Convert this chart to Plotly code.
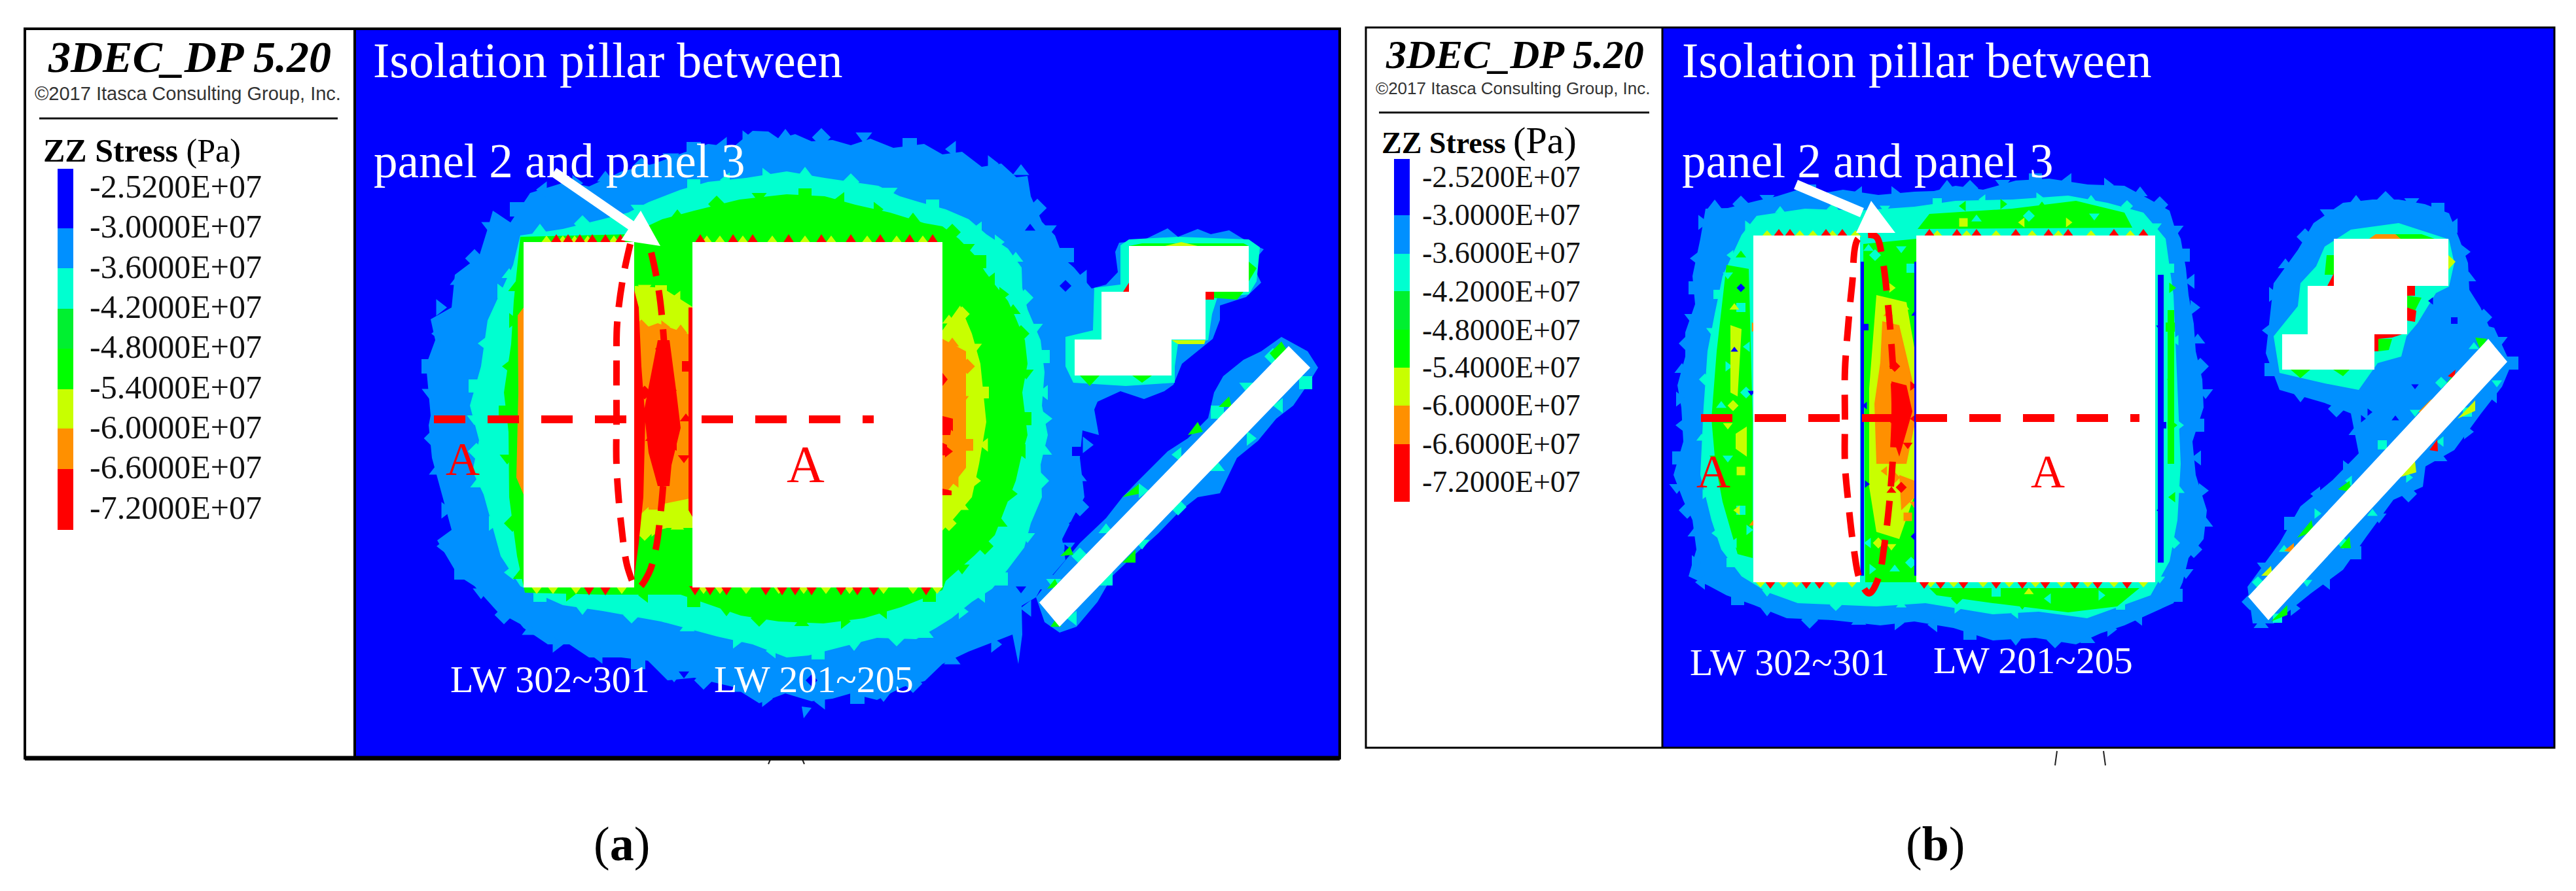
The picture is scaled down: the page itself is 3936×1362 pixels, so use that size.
"""
plot.py
Two 3DEC ZZ stress contour panels, redrawn with plotly.
Band outlines are read off the picture, in image pixels.
"""
import plotly.graph_objects as go

# -------------------------
# colours / legend
# -------------------------
BLUE, AZURE, CYAN, GREEN2 = "#0000ff", "#0090ff", "#00ffd0", "#00f030"
GREEN, YELLOW, ORANGE, RED = "#00ff00", "#c8ff00", "#ff9000", "#ff0000"
LEVEL_COLORS = [BLUE, AZURE, CYAN, GREEN2, GREEN, YELLOW, ORANGE, RED]
LEVEL_LABELS = ["-2.5200E+07", "-3.0000E+07", "-3.6000E+07", "-4.2000E+07", "-4.8000E+07",
                "-5.4000E+07", "-6.0000E+07", "-6.6000E+07", "-7.2000E+07"]

A_BAR_EDGES = [258, 349, 410, 472, 533, 595, 655, 717, 810]
A_LABEL_Y = [289, 350, 412, 473, 534, 596, 657, 718, 780]
B_BAR_EDGES = [243, 329, 388, 445, 504, 562, 620, 679, 767]
B_LABEL_Y = [274, 332, 390, 449, 508, 565, 623, 682, 740]

# -------------------------
# panel (a) contour bands
# -------------------------
A_AZURE = [[(1174,201),(1190,212),(1215,205),(1240,216),(1272,214),(1300,222),(1330,212),(1365,226),(1412,220),
            (1440,236),(1470,232),(1500,255),(1530,250),(1553,271),(1570,269),(1575,300),(1592,339),(1612,360),
            (1625,395),(1641,409),(1668,441),(1690,435),(1708,416),(1704,385),(1710,371),(1745,368),(1784,349),
            (1800,362),(1830,350),(1850,358),(1878,352),(1909,371),(1931,381),(1915,400),(1922,422),(1927,432),
            (1904,454),(1864,467),(1864,489),(1853,518),(1806,556),(1793,588),(1779,598),(1748,610),(1712,598),
            (1677,614),(1672,626),(1679,665),(1654,658),(1650,700),(1657,760),(1640,790),(1623,824),(1628,856),
            (1590,900),(1583,913),(1561,926),(1562,970),(1556,1015),(1547,970),(1480,996),(1440,1015),(1413,1041),
            (1380,1050),(1340,1070),(1300,1060),(1272,1068),(1240,1072),(1200,1060),(1160,1075),(1120,1050),
            (1061,1036),(1020,1040),(990,1010),(949,1005),(900,1005),(870,985),(837,985),(800,960),(795,954),
            (760,935),(725,896),(700,880),(668,826),(690,810),(675,756),(660,700),(655,650),(658,635),(651,558),
            (665,520),(658,488),(690,470),(695,420),(732,392),(745,350),(753,322),(780,340),(810,295),(865,278),
            (900,285),(950,262),(1000,250),(1040,235),(1082,220),(1120,225),(1150,200)],
           [(1958,515),(1998,537),(2014,562),(1998,588),(1976,620),(1950,640),(1922,674),(1890,700),(1864,754),
            (1830,760),(1802,782),(1770,815),(1739,843),(1700,880),(1677,920),(1645,958),(1619,967),(1596,951),
            (1583,913),(1610,878),(1650,830),(1690,792),(1715,760),(1739,735),(1784,690),(1815,670),(1846,639),
            (1855,600),(1869,575),(1900,550),(1927,537)],
           [(1225,1080),(1240,1082),(1228,1098)]]
A_AZURE_SPECKS = [(1200,208),(1255,210),(1320,208),(1390,222),(1455,228),(1515,250),(1560,262),(1585,318),(1602,350),
                  (1630,390),(1655,425),(1660,680),(1648,730),(1650,775),(1630,835),(1600,890),(1570,930),(1520,985),
                  (1455,1010),(1395,1045),(1350,1062),(1310,1065),(1255,1072),(1170,1068),(1130,1052),(1075,1040),
                  (1030,1032),(975,1012),(915,1002),(850,985),(810,965),(770,940),(735,905),(705,875),(678,835),
                  (680,780),(668,720),(662,670),(657,600),(655,560),(670,510),(672,470),(700,430),(725,395),(748,345),
                  (790,320),(830,290),(880,280),(925,272),(980,255),(1025,240),(1060,228),(1105,222),(1140,212),
                  (770,700),(750,640),(745,560),(760,480),(740,730),(749,533)]
A_BLUE_SPECKS = [(1574,349),(1628,437),(1560,900),(1645,690),(1640,800),(1630,840),(1500,240),(1240,1040),(1045,1030)]
A_CYAN = [[(795,360),(860,350),(921,335),(960,325),(991,309),(1040,290),(1082,278),(1140,272),(1202,262),(1260,272),
           (1342,284),(1375,300),(1405,309),(1445,320),(1480,335),(1507,358),(1540,380),(1561,409),(1562,440),
           (1570,473),(1590,520),(1596,569),(1592,620),(1601,665),(1590,710),(1592,760),(1575,800),(1565,837),
           (1540,870),(1516,900),(1485,920),(1454,945),(1430,960),(1400,977),(1340,975),(1272,992),(1235,1002),
           (1202,1005),(1150,985),(1096,973),(1010,950),(921,934),(860,925),(795,896),(765,850),(739,756),(722,720),
           (732,673),(718,620),(735,560),(745,490),(784,405)],
          [(1725,366),(1800,362),(1908,366),(1925,378),(1920,430),(1908,450),(1860,455),(1852,480),(1846,520),
           (1800,525),(1795,560),(1795,585),(1720,590),(1640,585),(1628,560),(1628,515),(1670,505),(1672,440),
           (1712,435),(1712,375)]]
A_CYAN_SPECKS = [(825,352),(890,342),(975,318),(1060,284),(1110,275),(1170,268),(1230,265),(1300,278),(1360,292),
                 (1425,315),(1495,350),(1525,370),(1552,395),(1566,455),(1582,500),(1594,545),(1596,600),(1598,640),
                 (1596,690),(1590,735),(1570,820),(1530,885),(1500,910),(1470,935),(1415,970),(1370,975),(1305,985),
                 (1250,998),(1180,995),(1125,980),(1050,960),(965,940),(890,930),(825,910),(780,875),(752,800),
                 (730,740),(728,690),(725,640),(726,590),(740,525),(765,445),(778,420),
                 (1945,545),(1905,590),(1860,630),(1800,695),(1745,750),(1690,810),(1650,850),(1610,890),
                 (1995,585),(1955,620),(1910,670),(1860,715),(1800,775),(1745,830),(1690,885),(1640,945)]
A_GREEN = [[(795,362),(963,358),(1012,335),(1061,322),(1130,305),(1202,297),(1260,300),(1307,313),(1360,325),(1412,341),
            (1440,346),(1465,365),(1489,390),(1505,415),(1520,435),(1540,460),(1552,486),(1566,520),(1570,556),
            (1562,600),(1570,665),(1560,700),(1552,735),(1535,780),(1520,818),(1489,849),(1445,888),(1440,902),
            (1410,915),(1377,928),(1320,945),(1258,953),(1190,950),(1132,941),(1085,925),(1040,909),(921,909),
            (802,906),(790,850),(778,760),(777,660),(770,600),(781,526),(785,460)],
           [(1745,372),(1900,372),(1908,376),(1725,376)], [(1908,400),(1920,410),(1908,430)],
           [(1842,446),(1900,446),(1890,458),(1850,455)], [(1650,574),(1680,574),(1665,590)],
           [(1730,574),(1760,574),(1745,585)], [(1940,540),(1958,522),(1966,535),(1950,552)],
           [(1862,622),(1878,606),(1882,622)], [(1815,665),(1830,645),(1838,660)], [(1715,760),(1740,740),(1740,755)],
           [(1620,850),(1635,835),(1640,848)], [(1600,900),(1612,885),(1618,897)], [(1910,610),(1930,590),(1936,602)],
           [(1815,720),(1840,695),(1840,712)], [(1715,860),(1735,840),(1735,860)], [(1605,958),(1612,948),(1622,958)]]
A_GREEN_SPECKS = [(1035,330),(1095,312),(1160,300),(1230,298),(1285,305),(1340,320),(1395,335),(1455,355),(1478,378),
                  (1497,400),(1515,428),(1532,450),(1548,475),(1560,510),(1568,570),(1566,640),(1562,690),(1545,755),
                  (1528,800),(1505,835),(1470,868),(1420,910),(1350,935),(1290,950),(1225,952),(1160,945),(1110,932),
                  (1060,918),(985,910),(870,908),(795,880),(783,800),(775,700),(772,630),(777,560),(783,490),(788,440)]
A_YELLOW = [[(1440,505),(1467,467),(1485,510),(1498,556),(1507,645),(1496,709),(1485,760),(1458,792),(1440,811)],
            [(970,437),(1012,440),(1058,469),(1058,807),(1019,807),(977,820),(969,800)],
            [(1780,376),(1830,376),(1805,370)], [(1842,520),(1790,520),(1800,526),(1840,526)], [(1935,590),(1945,578),(1948,590)]]
A_YELLOW_SPECKS = [(1450,490),(1470,480),(1490,530),(1502,600),(1505,680),(1490,735),(1470,775),(1450,800),(985,440),
                   (1010,445),(1035,455),(1000,810),(1035,805),(985,815),(1045,790),(1450,600),(1018,625),(1040,770)]
A_ORANGE = [[(1440,518),(1476,537),(1476,633),(1476,715),(1445,754),(1440,750)],
            [(970,507),(1005,494),(1058,513),(1058,724),(1054,762),(991,775),(970,794)],
            [(791,482),(800,470),(800,756),(789,730),(792,600)]]
A_ORANGE_SPECKS = [(1455,525),(1478,560),(1470,610),(1478,680),(1460,735),(1015,500),(1040,505),(980,500),(1045,745),
                   (1000,770),(975,780),(1010,650),(1020,560),(1012,700)]
A_RED = [[(1005,520),(1023,520),(1033,596),(1040,654),(1026,711),(1023,743),(1005,743),(991,692),(984,628)],
         [(969,443),(976,470),(980,560),(986,640),(983,760),(976,830),(969,883)],
         [(1052,470),(1058,470),(1058,790),(1052,780)], [(1440,570),(1448,580),(1440,590)],
         [(1440,636),(1456,640),(1452,665),(1440,665)], [(1440,677),(1447,680),(1447,696),(1440,696)],
         [(1440,747),(1454,750),(1454,757),(1440,757)], [(1716,446),(1725,446),(1725,432)],
         [(1842,446),(1855,446),(1855,458),(1842,458)]]
A_RED_SPECKS = [(1010,530),(1015,570),(1025,600),(1000,640),(1030,680),(1015,720),(995,670),(985,600),(1045,700),
                (1050,560),(1452,650),(1448,690),(1048,640)]
A_TOP_YELLOW = [835, 860, 878, 898, 938, 1080, 1100, 1135, 1180, 1230, 1270, 1325, 1370, 1410]
A_TOP_TEETH = [850, 868, 886, 905, 925, 948, 1070, 1120, 1150, 1205, 1255, 1300, 1345, 1390, 1425]
A_BOTTOM_YELLOW = [820, 845, 880, 950, 1075, 1100, 1140, 1190, 1228, 1262, 1298, 1350, 1395, 1432]
A_BOTTOM_TEETH = [900, 925, 1062, 1085, 1110, 1170, 1195, 1215, 1240, 1285, 1310, 1335, 1415]

# -------------------------
# panel (b) contour bands
# -------------------------
B_AZURE = [[(2606,319),(2640,318),(2684,307),(2715,300),(2747,290),(2780,296),(2816,290),(2870,298),(2925,293),(2955,292),
            (2988,284),(3030,290),(3080,276),(3131,273),(3190,282),(3246,284),(3285,305),(3315,322),(3322,345),(3332,365),
            (3340,410),(3344,451),(3352,495),(3355,537),(3365,580),(3367,623),(3350,675),(3355,726),(3372,780),(3367,824),
            (3344,853),(3335,890),(3321,922),(3285,938),(3246,956),(3210,968),(3172,985),(3110,975),(3045,979),(2985,960),
            (2925,950),(2873,956),(2800,948),(2730,945),(2680,925),(2638,910),(2610,895),(2580,881),(2592,840),(2586,795),
            (2572,765),(2557,726),(2572,675),(2569,623),(2563,589),(2575,545),(2575,508),(2590,465),(2586,422),(2598,365)],
           [(3580,310),(3625,305),(3665,305),(3705,312),(3742,326),(3758,366),(3771,402),(3773,443),(3790,470),(3803,499),
            (3811,501),(3831,545),(3836,560),(3823,591),(3791,632),(3750,688),(3706,713),(3702,744),(3657,764),(3616,820),
            (3580,871),(3531,907),(3474,953),(3442,953),(3434,897),(3483,830),(3515,774),(3564,734),(3604,693),(3592,632),
            (3552,616),(3483,596),(3462,540),(3470,468),(3474,433),(3511,382),(3535,341)]]
B_AZURE_SPECKS = [(2620,315),(2660,312),(2700,303),(2765,292),(2840,296),(2895,296),(2975,285),(3010,288),(3060,280),
                  (3110,275),(3160,276),(3220,283),(3270,295),(3300,313),(3325,350),(3336,390),(3348,430),(3352,470),
                  (3358,520),(3362,560),(3370,600),(3358,650),(3358,700),(3365,750),(3370,800),(3352,840),(3340,875),
                  (3325,910),(3268,945),(3225,962),(3190,978),(3140,978),(3080,977),(3010,968),(2955,955),(2900,952),
                  (2840,950),(2765,948),(2700,932),(2655,915),(2600,890),(2590,860),(2590,815),(2578,780),(2562,745),
                  (2565,700),(2570,650),(2566,610),(2570,565),(2578,525),(2585,485),(2590,440),(2592,395),(2600,340),
                  (3600,308),(3645,305),(3685,308),(3725,320),(3750,345),(3765,385),(3772,425),(3795,485),(3820,520),
                  (3838,555),(3810,605),(3770,660),(3728,700),(3680,755),(3635,790),(3598,845),(3555,890),(3505,930),
                  (3455,955),(3438,920),(3460,865),(3500,800),(3540,755),(3585,715),(3600,660),(3570,625),(3515,605),
                  (3470,565),(3466,505),(3472,450),(3492,405),(3522,362),(3556,325)]
B_BLUE_SPECKS = [(2650,535),(2660,440),(2676,600),(2850,500),(2850,620),(2852,740),(2926,480),(2926,820),(3300,500),
                 (3305,650),(3300,780),(3610,640),(3660,640),(3650,700),(3690,590),(3750,490),(3715,460),(3620,630)]
B_CYAN = [[(2684,330),(2758,319),(2840,322),(2925,316),(2988,307),(3075,305),(3160,299),(3220,310),(3275,325),(3309,365),
           (3321,451),(3327,594),(3332,709),(3327,795),(3315,858),(3286,910),(3189,945),(3115,935),(3045,939),(2942,922),
           (2867,927),(2747,922),(2700,905),(2661,881),(2630,840),(2615,795),(2598,726),(2603,623),(2609,537),(2620,480),
           (2632,422),(2661,359)],
          [(3552,377),(3592,351),(3665,341),(3742,366),(3750,402),(3742,438),(3722,448),(3694,494),(3677,514),(3669,545),
           (3633,555),(3604,596),(3552,586),(3483,570),(3474,514),(3511,468),(3515,433),(3539,407)]]
B_CYAN_SPECKS = [(2720,322),(2800,320),(2880,318),(2960,310),(3030,305),(3115,302),(3195,305),(3250,315),(3295,345),
                 (3315,410),(3325,520),(3330,650),(3330,750),(3322,830),(3300,885),(3240,925),(3080,938),(2990,930),
                 (2905,925),(2805,925),(2700,905),(2645,860),(2622,815),(2605,755),(2600,670),(2605,580),(2615,505),
                 (2625,450),(2645,390),(2670,345),
                 (3780,530),(3730,585),(3690,630),(3640,680),(3590,735),(3540,785),(3490,840),(3450,890),
                 (3815,585),(3770,630),(3730,675),(3680,730),(3625,785),(3580,830),(3525,890),(3480,945)]
B_CYAN_NOISE = [(2855,380),(2865,390),(2905,380),(2920,410),(2855,830),(2860,870),(2895,870),(2920,860),(2640,420),
                (2660,470),(2670,530),(2640,560),(2630,620),(2668,600),(2640,700),(2660,780),(2650,830),(2672,810),
                (3020,335),(3100,330),(3200,330),(3050,905),(3130,915),(3210,910)]
B_GREEN = [[(2638,405),(2672,411),(2678,640),(2678,853),(2655,847),(2632,767),(2621,709),(2615,640),(2623,537)],
           [(2948,327),(3074,319),(3172,307),(3246,325),(3258,348),(2930,350)],
           [(2948,899),(3269,899),(3235,927),(3160,936),(3045,922),(2959,910)],
           [(2847,373),(2928,365),(2928,890),(2850,890)],
           [(3312,474),(3322,474),(3322,709),(3312,709)],
           [(3782,516),(3800,518),(3790,535)], [(3738,586),(3750,570),(3760,580)], [(3572,748),(3590,735),(3592,752)],
           [(3510,822),(3532,795),(3535,812)], [(3575,838),(3590,820),(3592,838)], [(3470,950),(3495,925),(3495,940)],
           [(3555,390),(3566,390),(3566,420),(3552,420)], [(3500,565),(3530,565),(3515,578)], [(3565,565),(3590,565),(3580,575)],
           [(3640,358),(3700,358),(3720,365),(3620,365)], [(3678,452),(3700,455),(3690,475),(3678,470)],
           [(3634,518),(3655,518),(3650,535),(3634,537)]]
B_GREEN_SPECKS = [(2660,390),(2625,650),(2620,700),(3316,500),(3318,580),(3320,650),(2860,440),(2870,850),(2905,845),
                  (2880,400),(3000,315),(3060,312),(3120,315),(2990,915),(3090,925),(3220,915),(3320,760),(3318,440)]
B_YELLOW = [[(2867,451),(2913,462),(2926,537),(2926,755),(2902,824),(2867,813),(2856,744),(2856,594)],
            [(2644,497),(2661,503),(2655,606),(2644,600)], [(2652,663),(2669,652),(2669,698),(2652,686)],
            [(3455,880),(3470,865),(3472,880)], [(3755,640),(3782,612),(3782,628)], [(3665,730),(3690,705),(3692,722)],
            [(3741,390),(3752,400),(3741,412)]]
B_YELLOW_SPECKS = [(2650,470),(2648,620),(2640,650),(2660,720),(2655,780),(2890,440),(2910,470),(2870,830),(2890,835),
                   (3000,340),(3090,340),(3160,340),(3100,905)]
B_ORANGE = [[(2876,491),(2902,497),(2925,594),(2925,652),(2913,709),(2867,709),(2864,617),(2873,554)],
            [(2902,726),(2926,735),(2926,760),(2905,780)], [(3695,630),(3715,610),(3712,628)],
            [(3490,842),(3505,830),(3505,845)], [(3620,365),(3668,365),(3660,358),(3630,358)]]
B_ORANGE_SPECKS = [(2885,480),(2895,730),(2925,770),(2915,790),(2880,720),(2680,500),(2680,800)]
B_RED = [[(2890,583),(2913,589),(2922,629),(2902,698),(2890,663)], [(3740,575),(3752,565),(3750,578)],
         [(3712,688),(3724,672),(3725,690)], [(3556,437),(3566,418),(3566,437)], [(3678,437),(3690,437),(3690,452),(3678,452)],
         [(3678,470),(3692,475),(3690,492),(3678,490)], [(3628,511),(3670,511),(3655,516),(3634,518),(3634,537),(3628,537)]]
B_RED_SPECKS = [(2905,620),(2895,560),(2915,680),(2895,640),(2925,640),(2922,590),(2890,750),(2905,745)]
B_DARK = [[(2843,400),(2848,400),(2848,880),(2843,880)], [(2925,400),(2929,400),(2929,880),(2925,880)],
          [(3297,420),(3306,420),(3306,860),(3297,860)]]
B_TOP_YELLOW = [2700, 2750, 2770, 2800, 2835, 2960, 3005, 3050, 3105, 3145, 3195, 3255]
B_TOP_TEETH = [2718, 2735, 2790, 2815, 2948, 2990, 3020, 3080, 3130, 3160, 3230, 3275]
B_BOTTOM_YELLOW = [2690, 2725, 2745, 2800, 2830, 2950, 2985, 3030, 3070, 3110, 3150, 3190, 3230, 3275]
B_BOTTOM_TEETH = [2705, 2760, 2780, 2940, 2965, 3000, 3050, 3090, 3125, 3170, 3205, 3250]

# -------------------------
# white openings
# -------------------------
A_HOLES = [[(800,370),(969,370),(969,898),(800,898)], [(1058,370),(1440,370),(1440,898),(1058,898)],
           [(1725,376),(1908,376),(1908,446),(1842,446),(1842,519),(1790,519),(1790,574),(1642,574),(1642,519),(1683,519),(1683,446),(1725,446)],
           [(1969,529),(2002,562),(1619,958),(1588,921)]]
B_HOLES = [[(2679,360),(2842,360),(2842,890),(2679,890)], [(2928,360),(3293,360),(3293,890),(2928,890)],
           [(3566,365),(3741,365),(3741,437),(3678,437),(3678,511),(3628,511),(3628,565),(3487,565),(3487,511),(3526,511),(3526,437),(3566,437)],
           [(3802,518),(3831,553),(3466,948),(3435,912)]]

# -------------------------
# red ellipse and section lines, arrows
# -------------------------
A_ELLIPSE_X = [963, 952, 943, 942, 942, 942, 949, 960, 974, 991, 1002, 1009, 1016, 1019, 1016, 1009, 1002, 995]
A_ELLIPSE_Y = [373, 424, 494, 558, 641, 711, 800, 871, 899, 877, 839, 788, 705, 641, 545, 462, 418, 386]
B_ELLIPSE_X = [2856, 2839, 2830, 2824, 2819, 2819, 2819, 2824, 2832, 2842, 2856, 2870, 2879, 2887, 2893, 2895, 2890, 2885, 2876, 2867, 2856]
B_ELLIPSE_Y = [359, 365, 434, 497, 566, 640, 709, 767, 835, 887, 907, 884, 835, 767, 686, 617, 526, 468, 394, 362, 359]
A_SECTION = [([663, 957], [641, 641]), ([1072, 1335], [641, 641])]
B_SECTION = [([2599, 3269], [639, 639])]
ARROW_SHAFTS = [([846, 965], [263, 345]), ([2744, 2845], [282, 325])]
ARROW_HEADS = [[(1009,376),(979,322),(949,367)], [(2896,356),(2859,307),(2836,356)]]
CUT_ARCS = [([1177, 1174], [1161, 1168]), ([1226, 1229], [1161, 1168]), ([3143, 3140], [1148, 1170]), ([3214, 3217], [1148, 1170])]

SPECK_SYMBOLS = ["triangle-up", "diamond", "triangle-down", "square", "triangle-left", "triangle-right"]


def flatten(parts):
    xs, ys = [], []
    for part in parts:
        closed = part + part[:1]
        xs += [p[0] for p in closed] + [None]
        ys += [p[1] for p in closed] + [None]
    return xs, ys


def teeth(centres, y, h):
    return [[(c - 9, y), (c, y - h), (c + 9, y)] for c in centres]


fig = go.Figure()


def add_poly(parts, color):
    xs, ys = flatten(parts)
    fig.add_trace(go.Scatter(x=xs, y=ys, mode="lines", fill="toself", fillcolor=color,
                             line=dict(width=0, color=color), hoverinfo="skip", showlegend=False))


def add_specks(points, color, size):
    fig.add_trace(go.Scatter(x=[p[0] for p in points], y=[p[1] for p in points], mode="markers",
                             marker=dict(color=color, size=size, line=dict(width=0),
                                         symbol=[SPECK_SYMBOLS[i % 6] for i in range(len(points))]),
                             hoverinfo="skip", showlegend=False))


def add_line(x, y, color, width, dash="solid", shape="linear"):
    fig.add_trace(go.Scatter(x=x, y=y, mode="lines", hoverinfo="skip", showlegend=False,
                             line=dict(color=color, width=width, dash=dash, shape=shape)))


def add_colorbar(edges, x, width, label_x, label_y, size):
    fig.add_trace(go.Bar(x=[x] * 8, base=edges[:-1], y=[b - a for a, b in zip(edges, edges[1:])], width=width,
                         marker=dict(color=LEVEL_COLORS, line=dict(width=0)), hoverinfo="skip", showlegend=False))
    fig.add_trace(go.Scatter(x=[label_x] * 9, y=label_y, mode="text", text=LEVEL_LABELS, textposition="middle right",
                             textfont=dict(family="Liberation Serif", size=size, color="#111111"),
                             hoverinfo="skip", showlegend=False))


# (a)
add_poly(A_AZURE, AZURE)
add_specks(A_AZURE_SPECKS, AZURE, 22)
add_specks(A_BLUE_SPECKS, BLUE, 14)
add_poly(A_CYAN, CYAN)
add_specks(A_CYAN_SPECKS, CYAN, 20)
add_poly(A_GREEN, GREEN)
add_specks(A_GREEN_SPECKS, GREEN, 20)
add_poly(A_YELLOW + teeth(A_TOP_YELLOW, 372, 12) + teeth(A_BOTTOM_YELLOW, 896, -12), YELLOW)
add_specks(A_YELLOW_SPECKS, YELLOW, 18)
add_poly(A_ORANGE, ORANGE)
add_specks(A_ORANGE_SPECKS, ORANGE, 18)
add_poly(A_RED + teeth(A_TOP_TEETH, 372, 14) + teeth(A_BOTTOM_TEETH, 896, -14), RED)
add_specks(A_RED_SPECKS, RED, 16)
add_poly(A_HOLES, "#ffffff")
# (b)
add_poly(B_AZURE, AZURE)
add_specks(B_AZURE_SPECKS, AZURE, 20)
add_poly(B_CYAN, CYAN)
add_specks(B_CYAN_SPECKS, CYAN, 14)
add_poly(B_GREEN, GREEN)
add_specks(B_GREEN_SPECKS, GREEN, 14)
add_specks(B_CYAN_NOISE, CYAN, 14)
add_poly(B_YELLOW + teeth(B_TOP_YELLOW, 362, 10) + teeth(B_BOTTOM_YELLOW, 888, -10), YELLOW)
add_specks(B_YELLOW_SPECKS, YELLOW, 13)
add_poly(B_ORANGE, ORANGE)
add_specks(B_ORANGE_SPECKS, ORANGE, 13)
add_poly(B_RED + teeth(B_TOP_TEETH, 362, 12) + teeth(B_BOTTOM_TEETH, 888, -12), RED)
add_specks(B_RED_SPECKS, RED, 13)
add_poly(B_DARK, BLUE)
add_specks(B_BLUE_SPECKS, BLUE, 10)
add_poly(B_HOLES, "#ffffff")

add_line(A_ELLIPSE_X, A_ELLIPSE_Y, RED, 10, "38px,22px", "spline")
add_line(B_ELLIPSE_X, B_ELLIPSE_Y, RED, 10, "38px,22px", "spline")
for sx, sy in A_SECTION + B_SECTION:
    add_line(sx, sy, RED, 12, "48px,34px")
for sx, sy in ARROW_SHAFTS:
    add_line(sx, sy, "#ffffff", 15)
add_poly(ARROW_HEADS, "#ffffff")
for sx, sy in CUT_ARCS:
    add_line(sx, sy, "#222222", 2)

add_colorbar(A_BAR_EDGES, 100, 24, 137, A_LABEL_Y, 50)
add_colorbar(B_BAR_EDGES, 2142, 24, 2173, B_LABEL_Y, 46)

SERIF = "Liberation Serif"
texts = [
    (289, 87, "<b><i>3DEC_DP 5.20</i></b>", 68, "#000000", SERIF, "center"),
    (287, 143, "©2017 Itasca Consulting Group, Inc.", 29, "#333333", "Liberation Sans", "center"),
    (64, 230, "<b>ZZ Stress</b> (Pa)", 50, "#000000", SERIF, "left"),
    (568, 92, "Isolation pillar between", 76, "#ffffff", SERIF, "left"),
    (569, 246, "panel 2 and panel 3", 73, "#ffffff", SERIF, "left"),
    (686, 1038, "LW 302~301", 58, "#ffffff", SERIF, "left"),
    (1089, 1038, "LW 201~205", 58, "#ffffff", SERIF, "left"),
    (707, 702, "A", 72, RED, SERIF, "center"),
    (1231, 710, "A", 80, RED, SERIF, "center"),
    (2314, 83, "<b><i>3DEC_DP 5.20</i></b>", 62, "#000000", SERIF, "center"),
    (2312, 135, "©2017 Itasca Consulting Group, Inc.", 26, "#333333", "Liberation Sans", "center"),
    (2109, 214, "<b>ZZ Stress</b> <span style='font-size:58px'>(Pa)</span>", 46, "#000000", SERIF, "left"),
    (2568, 92, "Isolation pillar between", 76, "#ffffff", SERIF, "left"),
    (2568, 246, "panel 2 and panel 3", 73, "#ffffff", SERIF, "left"),
    (2580, 1012, "LW 302~301", 58, "#ffffff", SERIF, "left"),
    (2952, 1009, "LW 201~205", 58, "#ffffff", SERIF, "left"),
    (2618, 721, "A", 72, RED, SERIF, "center"),
    (3129, 721, "A", 72, RED, SERIF, "center"),
    (950, 1290, "(<b>a</b>)", 74, "#000000", SERIF, "center"),
    (2957, 1290, "(<b>b</b>)", 74, "#000000", SERIF, "center"),
]

# the page keeps its 8 px body margin, so the axes start at 8
fig.update_layout(
    width=3928, height=1354, margin=dict(l=0, r=0, t=0, b=0),
    paper_bgcolor="#ffffff", plot_bgcolor="#ffffff", showlegend=False, barmode="overlay",
    xaxis=dict(range=[8, 3936], visible=False, fixedrange=True),
    yaxis=dict(range=[1362, 8], visible=False, fixedrange=True),
    annotations=[dict(x=x, y=y, xref="x", yref="y", text=t, showarrow=False, xanchor=anchor, yanchor="middle",
                      font=dict(size=size, color=color, family=family))
                 for x, y, t, size, color, family, anchor in texts],
    shapes=[
        dict(type="rect", x0=542, x1=2047, y0=44, y1=1159, fillcolor=BLUE, line_width=0, layer="below"),
        dict(type="rect", x0=2540, x1=3903, y0=42, y1=1143, fillcolor=BLUE, line_width=0, layer="below"),
        dict(type="rect", x0=38, x1=2047, y0=44, y1=1159, line=dict(color="#000000", width=4)),
        dict(type="line", x0=38, x1=2047, y0=1159, y1=1159, line=dict(color="#000000", width=7)),
        dict(type="line", x0=542, x1=542, y0=44, y1=1159, line=dict(color="#000000", width=4)),
        dict(type="line", x0=60, x1=516, y0=181, y1=181, line=dict(color="#111111", width=3)),
        dict(type="rect", x0=2087, x1=3903, y0=42, y1=1143, line=dict(color="#000000", width=3)),
        dict(type="line", x0=2540, x1=2540, y0=42, y1=1143, line=dict(color="#000000", width=3)),
        dict(type="line", x0=2107, x1=2520, y0=172, y1=172, line=dict(color="#111111", width=3)),
    ],
)

fig.write_html("out.html")
